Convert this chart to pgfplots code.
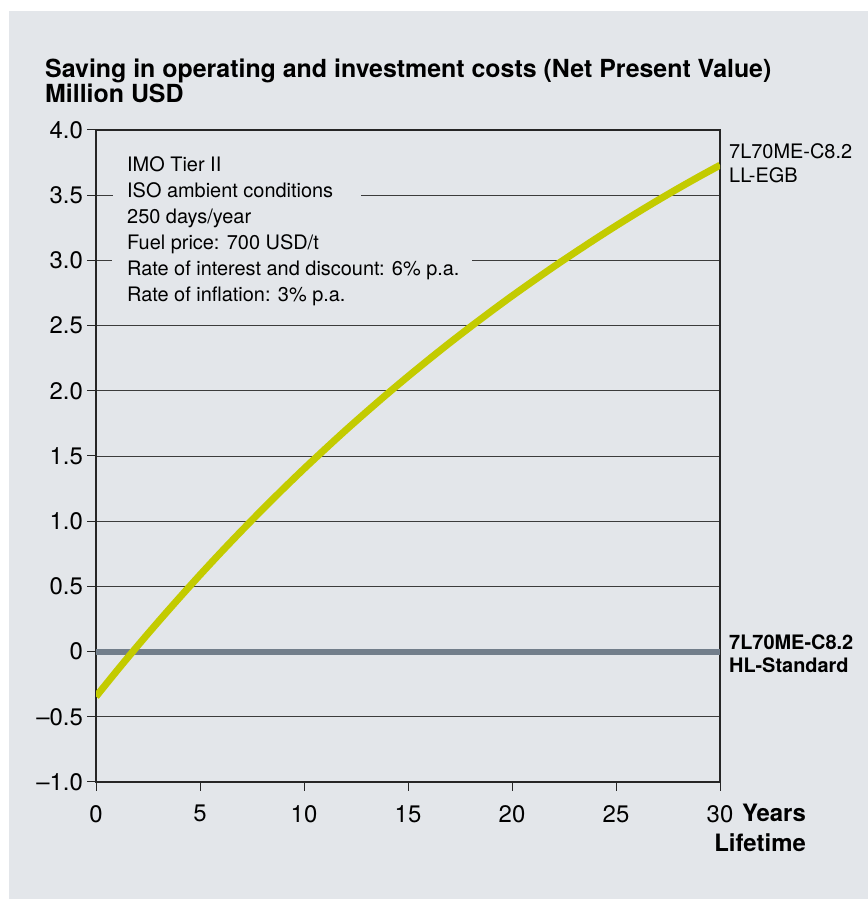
\documentclass[border=0pt]{standalone}
\usepackage{fontspec}
\setmainfont{TeX Gyre Heros}
\usepackage{pgfplots}
\pgfplotsset{compat=1.18}
\definecolor{bg}{HTML}{E3E6EA}
\definecolor{lime}{HTML}{C3CB00}
\definecolor{slate}{HTML}{727E8B}
\definecolor{gridc}{HTML}{3C3C3C}
\begin{document}
\begin{tikzpicture}[x=1bp,y=1bp]
\useasboundingbox (0,0) rectangle (868,899);
\fill[bg] (9,0) rectangle (868,888);
\begin{axis}[at={(96bp,117bp)}, anchor=south west, scale only axis,
  width=624bp, height=652bp,
  xmin=0, xmax=30, ymin=-1, ymax=4,
  xtick={0,5,10,15,20,25,30},
  xticklabels={0,5,10,15,20,25,30},
  ytick={-1,-0.5,0,0.5,1,1.5,2,2.5,3,3.5,4},
  yticklabels={--1.0,--0.5,0,0.5,1.0,1.5,2.0,2.5,3.0,3.5,4.0},
  ymajorgrids, grid style={gridc, line width=0.9bp},
  axis line style={black!85, line width=1.2bp},
  tick style={black!85, line width=1bp},
  tick align=outside, major tick length=9bp,
  xtick pos=bottom, ytick pos=left,
  ticklabel style={font=\fontsize{24}{28}\selectfont, inner sep=0pt},
  yticklabel style={xshift=-4bp},
  xticklabel style={yshift=-14bp},
]
\addplot[slate, line width=6bp] coordinates {(0,0) (30,0)};
\addplot[lime, line width=7bp, smooth] coordinates {
(0,-0.345) (1,-0.148) (2,0.044) (3,0.230) (4,0.411) (5,0.588) (6,0.760)
(7,0.927) (8,1.090) (9,1.248) (10,1.402) (11,1.551) (12,1.697) (13,1.838)
(14,1.976) (15,2.110) (16,2.240) (17,2.367) (18,2.490) (19,2.610) (20,2.727)
(21,2.840) (22,2.951) (23,3.058) (24,3.163) (25,3.265) (26,3.364) (27,3.460)
(28,3.553) (29,3.643) (30,3.730)};
\end{axis}
% masks over grid lines behind the info text
\fill[bg] (113,{899-195.2-2}) rectangle (361,{899-195.2+2});
\fill[bg] (112,{899-260.4-2}) rectangle (472,{899-260.4+2});
\begin{scope}[every node/.style={anchor=base west, inner sep=0pt, font=\fontsize{20}{24}\selectfont}]
\node at (127,{899-172}) {IMO Tier II};
\node at (127,{899-198}) {ISO ambient conditions};
\node at (127,{899-224}) {250 days/year};
\node at (127,{899-250}) {Fuel price: 700 USD/t};
\node at (127,{899-276}) {Rate of interest and discount: 6\% p.a.};
\node at (127,{899-302}) {Rate of inflation: 3\% p.a.};
\node at (729,{899-159}) {7L70ME-C8.2};
\node at (729,{899-183}) {LL-EGB};
\node[font=\bfseries\fontsize{20}{24}\selectfont] at (729,{899-650}) {7L70ME-C8.2};
\node[font=\bfseries\fontsize{20}{24}\selectfont] at (729,{899-673}) {HL-Standard};
\end{scope}
\node[anchor=base west, inner sep=0pt, font=\bfseries\fontsize{25}{30}\selectfont] at (45,{899-78}) {Saving in operating and investment costs (Net Present Value)};
\node[anchor=base west, inner sep=0pt, font=\bfseries\fontsize{25}{30}\selectfont] at (45,{899-103}) {Million USD};
\node[anchor=base east, inner sep=0pt, font=\bfseries\fontsize{24}{28}\selectfont] at (806,{899-822}) {Years};
\node[anchor=base east, inner sep=0pt, font=\bfseries\fontsize{24}{28}\selectfont] at (806,{899-852}) {Lifetime};
\end{tikzpicture}
\end{document}
